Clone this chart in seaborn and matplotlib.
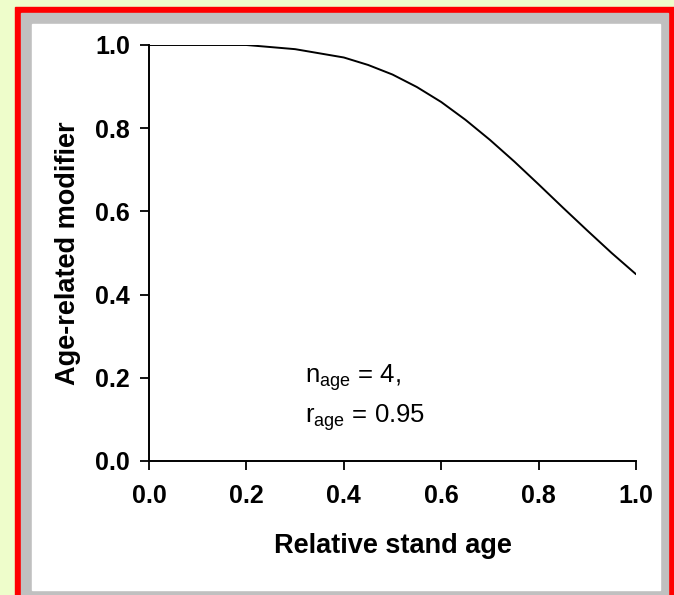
"""
Age-related modifier vs relative stand age (3-PG style curve)
"""

import numpy as np
import pandas as pd
import matplotlib
matplotlib.use("Agg")
import matplotlib.pyplot as plt
import seaborn as sns
from matplotlib.patches import Rectangle

# Data
rel_age = [0.0, 0.1, 0.2, 0.3, 0.4, 0.45, 0.5, 0.55, 0.6, 0.65,
           0.7, 0.75, 0.8, 0.85, 0.9, 0.95, 1.0]
modifier = [1.0, 1.0, 1.0, 0.99, 0.97, 0.952, 0.929, 0.899, 0.863, 0.82,
            0.772, 0.72, 0.665, 0.609, 0.554, 0.5, 0.449]
x_ticks = [0.0, 0.2, 0.4, 0.6, 0.8, 1.0]
y_ticks = [0.0, 0.2, 0.4, 0.6, 0.8, 1.0]

df = pd.DataFrame({"rel_age": rel_age, "modifier": modifier})

sns.set_style("ticks")
plt.rcParams['font.family'] = ['Liberation Sans', 'DejaVu Sans']
plt.rcParams['mathtext.fontset'] = 'custom'
plt.rcParams['mathtext.rm'] = 'Liberation Sans'
plt.rcParams['text.color'] = 'black'
plt.rcParams['axes.labelcolor'] = 'black'
plt.rcParams['xtick.color'] = 'black'
plt.rcParams['ytick.color'] = 'black'

W, H = 674, 595
FS = 18
fig = plt.figure(figsize=(W / 100, H / 100), dpi=100)
fig.patch.set_facecolor('#EEFDCB')

# Frame: red border, grey band, white panel (pixel coords, origin top-left)
def px_rect(x0, y0_top, x1, y1_bottom, color):
    fig.patches.append(Rectangle((x0 / W, 1 - y1_bottom / H),
                                 (x1 - x0) / W, (y1_bottom - y0_top) / H,
                                 transform=fig.transFigure, color=color,
                                 zorder=-10))

px_rect(15, 7, 674, 600, '#FF0000')
px_rect(21, 13, 668, 600, '#C0C0C0')
px_rect(32, 24, 660, 590, '#FFFFFF')

ax = fig.add_axes([149 / W, 1 - 461 / H, (636 - 149) / W, (461 - 45) / H])
ax.set_facecolor('none')

sns.lineplot(data=df, x="rel_age", y="modifier", ax=ax, color='black',
             linewidth=1.4)

ax.set_xlim(0, 1)
ax.set_ylim(0, 1)
ax.set_xticks(x_ticks)
ax.set_yticks(y_ticks)
ax.set_xticklabels([f"{v:.1f}" for v in x_ticks], fontsize=FS, fontweight='bold')
ax.set_yticklabels([f"{v:.1f}" for v in y_ticks], fontsize=FS, fontweight='bold')
ax.tick_params(axis='both', length=6.5, width=1.3, color='black')
ax.tick_params(axis='x', pad=10)
ax.tick_params(axis='y', pad=7)
for side in ['top', 'right']:
    ax.spines[side].set_visible(False)
for side in ['left', 'bottom']:
    ax.spines[side].set_linewidth(1.4)
    ax.spines[side].set_color('black')

ax.set_xlabel("Relative stand age", fontsize=19.5, fontweight='bold', labelpad=18)
ax.set_ylabel("Age-related modifier", fontsize=19.5, fontweight='bold', labelpad=10)

ax.text(0.32, 0.2, r"n$_{\mathrm{age}}$ = 4,", fontsize=18.5, va='center')
ax.text(0.32, 0.105, r"r$_{\mathrm{age}}$ = 0.95", fontsize=18.5, va='center')

fig.savefig("out.png", dpi=100, facecolor=fig.get_facecolor())
